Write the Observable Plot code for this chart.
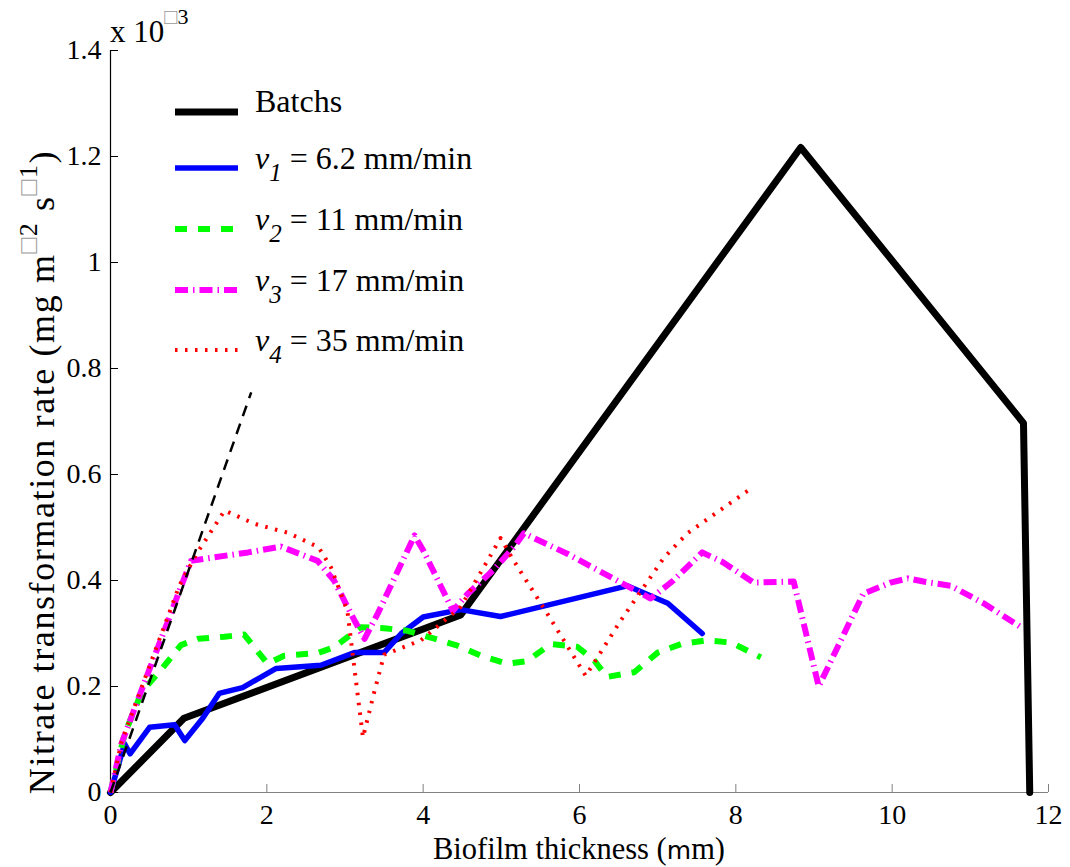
<!DOCTYPE html>
<html><head><meta charset="utf-8">
<script src="https://cdn.jsdelivr.net/npm/d3@7"></script>
<script src="https://cdn.jsdelivr.net/npm/@observablehq/plot@0.6"></script>
<style>
body{margin:0;background:#fff}
#wrap{position:relative;width:1070px;height:867px}
#overlay{position:absolute;left:0;top:0;pointer-events:none}
#wrap svg text{font-family:"Liberation Serif","Times New Roman",serif;font-variant:normal}
</style>
</head><body><div id="wrap"></div>
<script>
// ---- data (rate in 10^-3 mg m^-2 s^-1, thickness in mm) ----
const batchX = [0, 0.94, 4.48, 8.83, 11.68, 11.76];
const batchY = [0, 0.14, 0.335, 1.217, 0.697, 0];

const v1X = [0, 0.18, 0.25, 0.5, 0.82, 0.95, 1.18, 1.39, 1.69, 2.12, 2.69, 3.12, 3.5, 3.72, 4.0, 4.48, 4.99, 6.61, 7.13, 7.57];
const v1Y = [0, 0.092, 0.073, 0.123, 0.128, 0.098, 0.14, 0.187, 0.198, 0.234, 0.24, 0.264, 0.264, 0.3, 0.331, 0.345, 0.332, 0.39, 0.357, 0.3];

const v2X = [0, 0.18, 0.4, 0.65, 0.9, 1.12, 1.46, 1.71, 2.01, 2.22, 2.65, 2.86, 3.2, 3.5, 3.8, 4.1, 4.44, 4.74, 5.08, 5.33, 5.63, 5.97, 6.19, 6.35, 6.7, 7.0, 7.3, 7.62, 7.94, 8.32];
const v2Y = [0, 0.11, 0.19, 0.232, 0.278, 0.29, 0.294, 0.298, 0.243, 0.258, 0.263, 0.274, 0.312, 0.31, 0.305, 0.292, 0.277, 0.258, 0.243, 0.248, 0.28, 0.275, 0.249, 0.218, 0.227, 0.264, 0.28, 0.287, 0.283, 0.255];

const v3X = [0, 0.14, 0.44, 0.74, 0.88, 1.03, 1.29, 1.76, 2.18, 2.65, 2.86, 3.12, 3.25, 3.42, 3.72, 3.89, 4.0, 4.38, 4.57, 4.9, 5.16, 5.29, 5.85, 6.53, 6.91, 7.2, 7.57, 7.84, 8.23, 8.74, 9.06, 9.63, 9.98, 10.2, 10.4, 10.75, 11.17, 11.68];
const v3Y = [0, 0.092, 0.21, 0.325, 0.38, 0.437, 0.443, 0.453, 0.464, 0.437, 0.4, 0.325, 0.29, 0.338, 0.432, 0.485, 0.457, 0.343, 0.375, 0.42, 0.463, 0.489, 0.45, 0.396, 0.366, 0.4, 0.453, 0.434, 0.396, 0.398, 0.2, 0.375, 0.396, 0.404, 0.398, 0.39, 0.357, 0.309];

const v4X = [0, 0.14, 0.44, 0.88, 1.1, 1.46, 1.84, 2.27, 2.66, 2.82, 3.03, 3.16, 3.23, 3.37, 3.5, 3.97, 4.48, 4.99, 5.16, 5.59, 6.08, 6.53, 7.08, 7.38, 8.16];
const v4Y = [0, 0.095, 0.215, 0.39, 0.45, 0.532, 0.507, 0.49, 0.463, 0.425, 0.343, 0.187, 0.104, 0.187, 0.26, 0.287, 0.35, 0.48, 0.437, 0.337, 0.22, 0.325, 0.443, 0.489, 0.57];

const slopeX = [0, 1.8];
const slopeY = [0, 0.755];

const xTicks = [0, 2, 4, 6, 8, 10, 12];
const xTickLabels = ["0", "2", "4", "6", "8", "10", "12"];
const yTicks = [0, 0.2, 0.4, 0.6, 0.8, 1, 1.2, 1.4];
const yTickLabels = ["0", "0.2", "0.4", "0.6", "0.8", "1", "1.2", "1.4"];

const seriesNames = ["Batchs", "v1", "v2", "v3", "v4"];
const seriesColors = ["#000000", "#0000ff", "#00ff00", "#ff00ff", "#ff0000"];
const seriesWidths = [7, 5.5, 6, 6, 4];
const seriesDash = [null, null, "12,11", "13,5,1.5,5", "2.5,7.5"];
const legendLabels = [
  {main: "Batchs"},
  {v: "v", sub: "1", rest: " = 6.2 mm/min"},
  {v: "v", sub: "2", rest: " = 11 mm/min"},
  {v: "v", sub: "3", rest: " = 17 mm/min"},
  {v: "v", sub: "4", rest: " = 35 mm/min"}
];

const pts = (xs, ys) => xs.map((x, i) => ({x, y: ys[i]}));
const seriesData = [pts(batchX, batchY), pts(v1X, v1Y), pts(v2X, v2Y), pts(v3X, v3Y), pts(v4X, v4Y)];

const serif = "Liberation Serif";

const lineMarks = seriesData.map((d, i) => Plot.line(d, {
  x: "x", y: "y",
  stroke: seriesColors[i],
  strokeWidth: seriesWidths[i],
  strokeDasharray: seriesDash[i] ?? undefined,
  strokeLinecap: seriesDash[i] ? "butt" : "round",
  strokeLinejoin: "round"
}));

const plot = Plot.plot({
  width: 1070, height: 867,
  marginLeft: 110, marginRight: 22, marginTop: 50, marginBottom: 75,
  x: {domain: [0, 12]},
  y: {domain: [0, 1.4]},
  style: {fontFamily: serif, fontSize: "28px", background: "white", color: "black", overflow: "visible"},
  marks: [
    Plot.ruleY([0], {stroke: "#808080", strokeWidth: 1.2}),
    Plot.ruleX([0], {stroke: "#000000", strokeWidth: 1.2}),
    Plot.axisX({ticks: xTicks, tickSize: -8, tickPadding: 20, label: null, stroke: "#808080",
      fontFamily: serif, fontSize: 28, fill: "black", fontVariant: "normal",
      tickFormat: d => xTickLabels[xTicks.indexOf(d)]}),
    Plot.axisY({ticks: yTicks, tickSize: -8, tickPadding: 17, label: null, stroke: "#000000",
      fontFamily: serif, fontSize: 28, fill: "black", fontVariant: "normal",
      tickFormat: d => yTickLabels[yTicks.indexOf(d)]}),
    ...lineMarks,
    Plot.line(pts(slopeX, slopeY), {x: "x", y: "y", stroke: "black", strokeWidth: 2.5, strokeDasharray: "11,8", strokeLinecap: "butt"})
  ]
});
const wrap = document.getElementById("wrap");
wrap.appendChild(plot);

// ---- overlay: axis titles, exponent, legend ----
const svg = d3.select(wrap).append("svg").attr("id", "overlay")
  .attr("width", 1070).attr("height", 867);

// exponent
const ex = svg.append("text").attr("x", 110).attr("y", 42).attr("font-size", 31).attr("fill", "black");
ex.append("tspan").text("x 10");
ex.append("tspan").attr("dy", -18).attr("font-size", 22).attr("fill", "#999").text("\u25A1");
ex.append("tspan").attr("font-size", 22).text("3");

// x label
const xl = svg.append("text").attr("x", 579).attr("y", 859).attr("text-anchor", "middle")
  .attr("font-size", 30.5).attr("fill", "black");
xl.append("tspan").text("Biofilm thickness (");
xl.append("tspan").attr("style", "font-family:'DejaVu Sans',sans-serif").attr("font-size", 25).text("m");
xl.append("tspan").text("m)");

// y label
const yl = svg.append("text").attr("transform", "translate(54,472) rotate(-90)")
  .attr("text-anchor", "middle").attr("font-size", 36).attr("letter-spacing", 1.6).attr("fill", "black");
yl.append("tspan").text("Nitrate transformation rate (mg m");
yl.append("tspan").attr("dy", -17).attr("font-size", 26).attr("fill", "#999").text("\u25A1");
yl.append("tspan").attr("font-size", 26).text("2");
yl.append("tspan").attr("dy", 17).text(" s");
yl.append("tspan").attr("dy", -17).attr("font-size", 26).attr("fill", "#999").text("\u25A1");
yl.append("tspan").attr("font-size", 26).text("1");
yl.append("tspan").attr("dy", 17).text(")");

// legend
const rowY = [112, 168, 229, 290, 350];
legendLabels.forEach((lab, i) => {
  svg.append("line").attr("x1", 175).attr("x2", 238).attr("y1", rowY[i]).attr("y2", rowY[i])
    .attr("stroke", seriesColors[i]).attr("stroke-width", seriesWidths[i])
    .attr("stroke-dasharray", seriesDash[i]);
  const t = svg.append("text").attr("x", 255).attr("y", rowY[i] + 1).attr("font-size", 32).attr("fill", "black");
  if (lab.main) { t.attr("y", rowY[i]).text(lab.main); return; }
  t.append("tspan").attr("font-style", "italic").text(lab.v);
  t.append("tspan").attr("font-style", "italic").attr("font-size", 25).attr("dy", 12).text(lab.sub);
  t.append("tspan").attr("dy", -12).text(lab.rest);
});
</script>
</body></html>
